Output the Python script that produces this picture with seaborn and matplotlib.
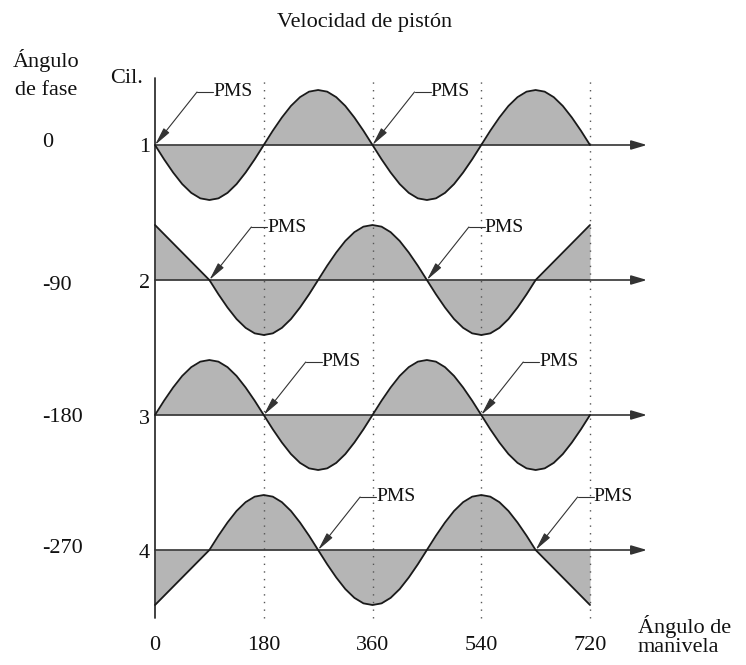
import matplotlib
matplotlib.use("Agg")
import matplotlib.pyplot as plt
import pandas as pd
import seaborn as sns

# ---------------- data ----------------
title = "Velocidad de pistón"
cylinders = ["1", "2", "3", "4"]
phase_labels = ["0", "-90", "-180", "-270"]
pms_angles = [0, 90, 180, 270]          # first PMS (TDC) of each cylinder, degrees
xticks = [0, 180, 360, 540, 720]
# normalised piston velocity over one revolution after PMS (read every 15 deg)
profile_deg = list(range(0, 361, 15))
profile_vel = [0, -0.26, -0.5, -0.71, -0.87, -0.97, -1.0, -0.97, -0.87, -0.71,
               -0.5, -0.26, 0, 0.26, 0.5, 0.71, 0.87, 0.97, 1.0, 0.97, 0.87,
               0.71, 0.5, 0.26, 0]
angles_full = list(range(0, 721, 15))
angles_edge = [0] + list(range(90, 631, 15)) + [720]   # cyl 2 and 4: straight end segments
cyl_angles = [angles_full, angles_edge, angles_full, angles_edge]

# ---------------- layout ----------------
W, H = 746, 665
X0_PX, PX_PER_DEG = 155, 435 / 720
BASE_PX = [145, 280, 415, 550]
AMP_PX = 55


def xd(px):
    return (px - X0_PX) / PX_PER_DEG


def yd(py):
    return (BASE_PX[0] - py) / AMP_PX


offsets = [yd(b) for b in BASE_PX]

rows = []
for k, cyl in enumerate(cylinders):
    for a in cyl_angles[k]:
        v = profile_vel[profile_deg.index((a - pms_angles[k]) % 360)]
        rows.append({"angle": a, "vel": v, "y": offsets[k] + v, "cyl": cyl})
df = pd.DataFrame(rows)

sns.set_theme(style="white")
plt.rcParams["font.family"] = ["Liberation Serif", "DejaVu Serif"]

fig = plt.figure(figsize=(W / 100, H / 100), dpi=100)
ax = fig.add_axes([0, 0, 1, 1])
ax.set_xlim(xd(0), xd(W))
ax.set_ylim(yd(H), yd(0))
ax.axis("off")

FILL = "#b5b5b5"
LINE = "#1a1a1a"
AXC = "#333333"
TXT = "#111111"

# filled areas
for k, cyl in enumerate(cylinders):
    d = df[df.cyl == cyl]
    ax.fill_between(d.angle, offsets[k], d.y, color=FILL, lw=0, zorder=1)

# dotted reference lines
ax.vlines(xticks[1:], yd(618), yd(78), colors="#555555", lw=1.0,
          linestyles=(0, (1, 4.5)), zorder=2)
# vertical axis
ax.plot([0, 0], [yd(618), yd(78)], color=AXC, lw=1.3, zorder=3)

# baselines with arrows
for k in range(4):
    ax.annotate("", xy=(xd(647), offsets[k]), xytext=(0, offsets[k]),
                arrowprops=dict(arrowstyle="-|>,head_length=0.95,head_width=0.28",
                                color=AXC, lw=1.2, shrinkA=0, shrinkB=0,
                                mutation_scale=10), zorder=3)

# curves
sns.lineplot(data=df, x="angle", y="y", units="cyl", estimator=None, sort=False,
             color=LINE, lw=1.3, ax=ax, zorder=4)
ax.set_xlim(xd(0), xd(W))
ax.set_ylim(yd(H), yd(0))
ax.axis("off")

# PMS annotations
for k in range(4):
    for a in (pms_angles[k], pms_angles[k] + 360):
        ex, ey = a + 42 / PX_PER_DEG, offsets[k] + 53 / AMP_PX
        tx = a + 58 / PX_PER_DEG
        ax.plot([ex, tx], [ey, ey], color=AXC, lw=0.8, zorder=5)
        ax.annotate("", xy=(a, offsets[k]), xytext=(ex, ey),
                    arrowprops=dict(arrowstyle="-|>,head_length=1.1,head_width=0.22",
                                    color=AXC, lw=0.8, shrinkA=0, shrinkB=0,
                                    mutation_scale=10), zorder=5)
        ax.text(tx, ey, "PMS", ha="left", va="center", fontsize=14, color=TXT, zorder=6)

# texts
ax.text(xd(365), yd(27), title, ha="center", va="baseline", fontsize=16, color=TXT)
ax.text(xd(13), yd(67), "Ángulo", ha="left", va="baseline", fontsize=16, color=TXT)
ax.text(xd(15), yd(95), "de fase", ha="left", va="baseline", fontsize=16, color=TXT)
ax.text(xd(110), yd(83), "Cil.", ha="left", va="baseline", fontsize=16, color=TXT)

phase_base = [147, 290, 422, 553]
cyl_base = [152, 288, 424, 558]
for k in range(4):
    ax.text(xd(42), yd(phase_base[k]), phase_labels[k], ha="left", va="baseline",
            fontsize=16, color=TXT)
    ax.text(xd(150), yd(cyl_base[k]), cylinders[k], ha="right", va="baseline",
            fontsize=16, color=TXT)

for t in xticks:
    ax.text(t, yd(650), str(t), ha="center", va="baseline", fontsize=16, color=TXT)

ax.text(xd(638), yd(633), "Ángulo de", ha="left", va="baseline", fontsize=16, color=TXT)
ax.text(xd(638), yd(652), "manivela", ha="left", va="baseline", fontsize=16, color=TXT)

fig.savefig("out.png", dpi=100, facecolor="white")
